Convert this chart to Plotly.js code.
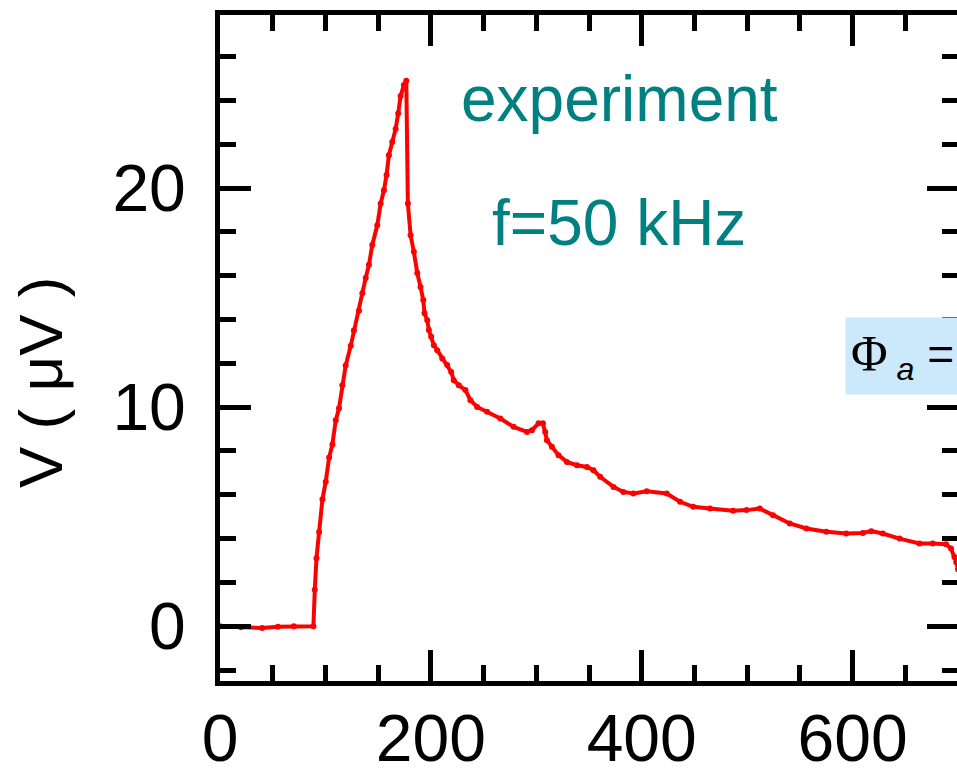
<!DOCTYPE html>
<html>
<head>
<meta charset="utf-8">
<script src="https://cdn.plot.ly/plotly-3.0.1.min.js"></script>
<style>html,body{margin:0;padding:0;overflow:hidden;background:#fff;width:957px;height:770px}</style>
</head>
<body>
<div id="chart"></div>
<script>
// time axis (x) and signal V (µV)
const xValues = [0, 20, 40, 55, 70, 88.6, 89.9, 91.5, 94, 97.2, 100.3, 103.5, 106.6, 109.8, 112.9, 116, 119.2, 124, 127, 131.8, 135, 138.2, 141.3, 144.4, 149.2, 152.4, 155.5, 158, 160.2, 163.4, 166.6, 169, 171.3, 174.4, 176.7,
  178.2, 180.8, 183.9, 187.1, 190.2, 192.8, 194.0, 196.6, 198.1, 200.3, 202.8, 206.0, 210.8, 215.5, 219.3, 221.7, 226.5, 232.8, 237.5, 243.9, 253.3, 265.9, 278.5, 291.2, 295.9, 302.2, 306.3, 308.5, 310.1, 314.8, 321.1, 329.0, 338.5, 348.0, 354.2, 360.6,
  373.2, 382.6, 392.1, 404.8, 423.7, 436.3, 448.9, 464.7, 486.7, 499.4, 512.0, 524.6, 540.4, 556.2, 575.1, 594.0, 609.8, 617.7, 628.6, 644.5, 663.4, 676.0, 688.7, 693.4, 696.6, 698.4, 700];
const vValues = [0, -0.05, -0.08, -0.02, 0, 0, 1.66, 3.1, 4.3, 5.8, 6.6, 7.7, 8.3, 9.4, 9.95, 11.0, 11.9, 12.8, 13.5, 14.4, 15.2, 15.9, 16.5, 17.4, 18.3, 19.3, 19.9, 20.6, 21.5, 22.1, 22.7, 23.4, 24.2, 24.7, 24.9,
  19.3, 17.85, 17.09, 16.12, 15.49, 14.89, 14.29, 13.97, 13.52, 13.21, 12.83, 12.60, 12.22, 11.92, 11.61, 11.23, 11.00, 10.78, 10.32, 10.01, 9.79, 9.48, 9.10, 8.87, 8.95, 9.26, 9.26, 8.87, 8.49, 8.19, 7.81, 7.50, 7.35, 7.27, 7.12, 6.82,
  6.36, 6.13, 6.06, 6.16, 6.06, 5.68, 5.45, 5.37, 5.27, 5.30, 5.37, 5.07, 4.69, 4.46, 4.31, 4.23, 4.26, 4.34, 4.23, 4.00, 3.78, 3.78, 3.74, 3.55, 3.16, 2.92, 2.6];
const xTickVals = [0, 200, 400, 600];
const yTickVals = [0, 10, 20];
const labelTop = "experiment";
const labelFreq = "f=50 kHz";
const yTitle = "V ( \u03bcV )";

const trace = {
  x: xValues, y: vValues, type: 'scatter', mode: 'lines+markers',
  line: {color: '#ff0000', width: 4},
  marker: {color: '#ff0000', size: 6},
  hoverinfo: 'skip', showlegend: false
};

const axisCommon = {
  showline: true, linecolor: 'black', linewidth: 5, mirror: 'ticks',
  ticks: 'inside', ticklen: 31, tickwidth: 5, tickcolor: 'black',
  showgrid: false, zeroline: false,
  tickfont: {family: 'Liberation Sans, Arial, sans-serif', size: 66, color: 'black'}
};

const layout = {
  width: 975, height: 770,
  margin: {l: 220, r: 17, t: 15, b: 89},
  paper_bgcolor: 'white', plot_bgcolor: 'white',
  xaxis: Object.assign({}, axisCommon, {
    range: [0, 700], tickvals: xTickVals, ticklabelstandoff: -4,
    minor: {dtick: 50, tick0: 0, ticks: 'inside', ticklen: 16, tickwidth: 5, tickcolor: 'black', showgrid: false}
  }),
  yaxis: Object.assign({}, axisCommon, {
    range: [-2.5, 27.9], tickvals: yTickVals, ticklabelstandoff: 16,
    minor: {dtick: 2, tick0: 0, ticks: 'inside', ticklen: 16, tickwidth: 5, tickcolor: 'black', showgrid: false}
  }),
  annotations: [
    {x: 378.6, y: 24.06, xref: 'x', yref: 'y', text: labelTop, showarrow: false,
     font: {family: 'Liberation Sans, Arial, sans-serif', size: 64, color: '#008080'}},
    {x: 378.6, y: 18.4, xref: 'x', yref: 'y', text: labelFreq, showarrow: false,
     font: {family: 'Liberation Sans, Arial, sans-serif', size: 64, color: '#008080'}},
    {x: (40 - 220) / 738, y: (681 - 383) / 666, xref: 'paper', yref: 'paper', xanchor: 'center', yanchor: 'middle',
     text: yTitle, showarrow: false, textangle: -90,
     font: {family: 'Liberation Sans, Arial, sans-serif', size: 62, color: 'black'}},
    {x: (845 - 220) / 738, y: (681 - 356) / 666, xref: 'paper', yref: 'paper',
     xanchor: 'left', yanchor: 'middle', align: 'left', width: 160, height: 66,
     text: '<span style="font-family:Liberation Serif, Times New Roman, serif;font-size:50px">\u03a6</span><sub><i> a</i></sub> =',
     showarrow: false, bgcolor: '#cce9fb', borderpad: 5,
     font: {family: 'Liberation Sans, Arial, sans-serif', size: 46, color: 'black'}}
  ]
};

Plotly.newPlot('chart', [trace], layout, {displayModeBar: false, staticPlot: true});
</script>
</body>
</html>
